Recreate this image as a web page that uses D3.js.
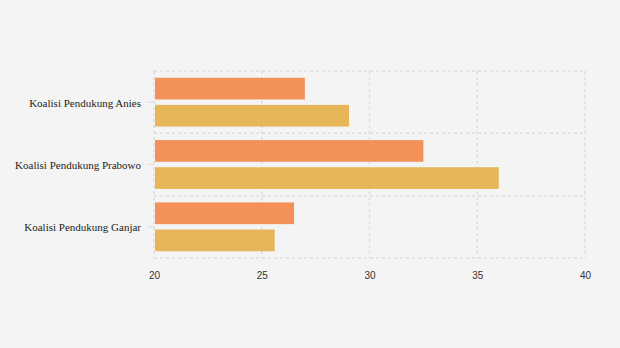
<!DOCTYPE html>
<html><head><meta charset="utf-8">
<script src="https://cdn.jsdelivr.net/npm/d3@7"></script>
<style>body{margin:0;background:#f4f4f4}svg{display:block}</style>
</head><body><svg id="c" width="620" height="348"></svg>
<script>
const categories = ["Koalisi Pendukung Anies", "Koalisi Pendukung Prabowo", "Koalisi Pendukung Ganjar"];
const seriesNames = ["Seri 1", "Seri 2"];
const series1 = [27.0, 32.5, 26.5];
const series2 = [29.05, 36.0, 25.6];
const xTicks = [20, 25, 30, 35, 40];
const colors = ["#f3894c", "#e5b04c"];

const svg = d3.select("#c");
svg.append("rect").attr("width",620).attr("height",348).attr("fill","#f4f4f4");
const m = {l:154, r:35, t:71, b:90};
const W = 620 - m.l - m.r, H = 348 - m.t - m.b;
const g = svg.append("g").attr("transform",`translate(${m.l},${m.t})`);
const x = d3.scaleLinear().domain([20,40]).range([0,W]);
const y = d3.scaleBand().domain(categories).range([0,H]);
const inner = d3.scaleBand().domain(seriesNames).range([0,y.bandwidth()]).paddingInner(0.2).paddingOuter(0.25);

// grid
const grid = g.append("g");
xTicks.forEach(t=>{
  grid.append("line").attr("x1",x(t)).attr("x2",x(t)).attr("y1",0).attr("y2",H)
    .attr("stroke","#dcdcdc").attr("stroke-width",1.5).attr("stroke-dasharray","3,3");
});
const bounds = categories.map(c=>y(c)).concat([H]);
bounds.forEach(b=>{
  grid.append("line").attr("x1",0).attr("x2",W).attr("y1",b).attr("y2",b)
    .attr("stroke","#dcdcdc").attr("stroke-width",1.5).attr("stroke-dasharray","3,3");
});

const data = categories.map((c,i)=>({c, v:[series1[i], series2[i]]}));
const gg = g.selectAll(".grp").data(data).join("g").attr("transform",d=>`translate(0,${y(d.c)})`);
gg.selectAll("rect").data(d=>d.v.map((v,j)=>({v,j}))).join("rect")
  .attr("x",x(20)+1).attr("y",d=>inner(seriesNames[d.j]))
  .attr("width",d=>x(d.v)-x(20)-1).attr("height",inner.bandwidth())
  .attr("fill",d=>colors[d.j]).attr("fill-opacity",0.93);

// y axis
const ya = g.append("g").call(d3.axisLeft(y).tickSize(7).tickPadding(6));
ya.select(".domain").remove();
ya.selectAll(".tick line").attr("stroke","#e3e3e3").attr("stroke-width",1.5);
ya.selectAll(".tick text").attr("font-family","'Liberation Serif', serif").attr("font-size",11).attr("fill","#222").attr("dy","0.4em");

// x axis
const xa = g.append("g").attr("transform",`translate(0,${H})`)
  .call(d3.axisBottom(x).tickValues(xTicks).tickSize(0).tickPadding(14).tickFormat(d3.format("d")));
xa.select(".domain").remove();
xa.selectAll(".tick text").attr("font-family","'Liberation Sans', Arial, sans-serif").attr("font-size",10).attr("fill","#333");
</script></body></html>
